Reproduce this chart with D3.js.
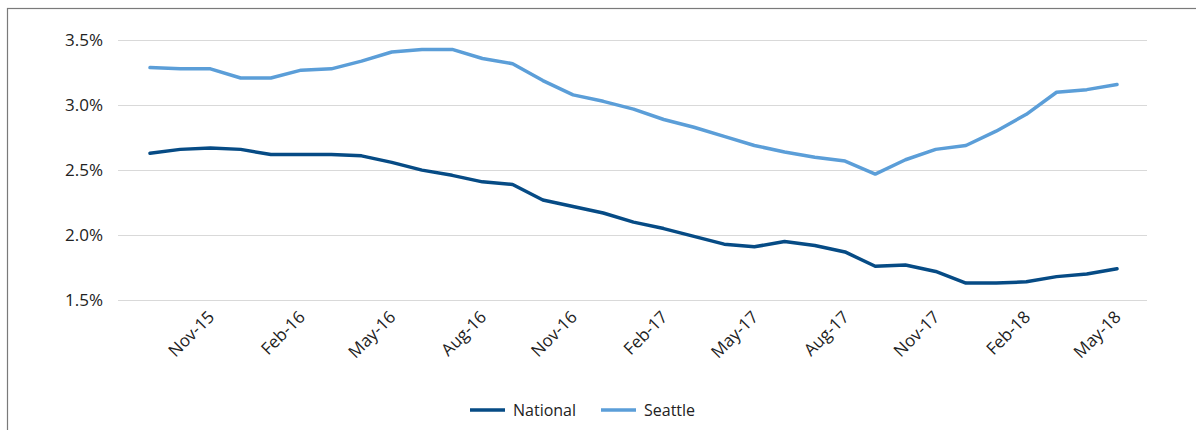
<!DOCTYPE html>
<html>
<head>
<meta charset="utf-8">
<script src="https://cdn.jsdelivr.net/npm/d3@7"></script>
<style>
  body { margin: 0; background: #fff; }
  svg { display: block; font-family: "Open Sans", "Noto Sans", sans-serif; }
</style>
</head>
<body>
<svg width="1196" height="430"></svg>
<script>
const months = ["Sep-15","Oct-15","Nov-15","Dec-15","Jan-16","Feb-16","Mar-16","Apr-16","May-16","Jun-16","Jul-16",
  "Aug-16","Sep-16","Oct-16","Nov-16","Dec-16","Jan-17","Feb-17","Mar-17","Apr-17","May-17","Jun-17","Jul-17",
  "Aug-17","Sep-17","Oct-17","Nov-17","Dec-17","Jan-18","Feb-18","Mar-18","Apr-18","May-18"];
const national = [2.63,2.66,2.67,2.66,2.62,2.62,2.62,2.61,2.56,2.50,2.46,2.41,2.39,2.27,2.22,2.17,2.10,2.05,1.99,1.93,1.91,1.95,1.92,1.87,1.76,1.77,1.72,1.63,1.63,1.64,1.68,1.70,1.74];
const seattle = [3.29,3.28,3.28,3.21,3.21,3.27,3.28,3.34,3.41,3.43,3.43,3.36,3.32,3.19,3.08,3.03,2.97,2.89,2.83,2.76,2.69,2.64,2.60,2.57,2.47,2.58,2.66,2.69,2.80,2.93,3.10,3.12,3.16];
const yTicks = [1.5, 2.0, 2.5, 3.0, 3.5];
const xTickLabels = ["Nov-15","Feb-16","May-16","Aug-16","Nov-16","Feb-17","May-17","Aug-17","Nov-17","Feb-18","May-18"];

const series = [
  { name: "National", values: national, color: "#064b85" },
  { name: "Seattle", values: seattle, color: "#5b9ed8" }
];

const svg = d3.select("svg");

// outer frame
svg.append("rect")
  .attr("x", 7.5).attr("y", 8.5)
  .attr("width", 1200).attr("height", 440)
  .attr("fill", "none")
  .attr("stroke", "#7a7a7a")
  .attr("stroke-width", 1.2);

const gridLeft = 118, gridRight = 1147;

const x = d3.scalePoint().domain(months).range([150, 1117]);
const y = d3.scaleLinear().domain([1.5, 3.5]).range([300, 40.3]);

// gridlines
svg.append("g")
  .selectAll("line")
  .data(yTicks)
  .join("line")
  .attr("x1", gridLeft).attr("x2", gridRight)
  .attr("y1", d => Math.round(y(d)) + 0.5)
  .attr("y2", d => Math.round(y(d)) + 0.5)
  .attr("stroke", "#d9d9d9")
  .attr("stroke-width", 1);

// y labels
svg.append("g")
  .selectAll("text")
  .data(yTicks)
  .join("text")
  .attr("x", 103)
  .attr("y", d => y(d))
  .attr("dy", "0.35em")
  .attr("text-anchor", "end")
  .attr("font-size", 17)
  .attr("fill", "#222")
  .text(d => d.toFixed(1) + "%");

// x labels rotated
svg.append("g")
  .selectAll("text")
  .data(xTickLabels)
  .join("text")
  .attr("transform", d => `translate(${x(d) + 5},${318}) rotate(-45)`)
  .attr("text-anchor", "end")
  .attr("font-size", 17)
  .attr("fill", "#222")
  .text(d => d);

// lines
const line = d3.line()
  .x((d, i) => x(months[i]))
  .y(d => y(d));

svg.append("g")
  .selectAll("path")
  .data(series)
  .join("path")
  .attr("d", d => line(d.values))
  .attr("fill", "none")
  .attr("stroke", d => d.color)
  .attr("stroke-width", 3.5)
  .attr("stroke-linejoin", "round")
  .attr("stroke-linecap", "round");

// legend
const legend = svg.append("g")
  .selectAll("g")
  .data(series)
  .join("g")
  .attr("transform", (d, i) => `translate(${470 + i * 131},410)`);

legend.append("line")
  .attr("x1", 0).attr("x2", 35)
  .attr("stroke", d => d.color)
  .attr("stroke-width", 3.5);

legend.append("text")
  .attr("x", 43)
  .attr("dy", "0.35em")
  .attr("font-size", 16)
  .attr("fill", "#222")
  .text(d => d.name);
</script>
</body>
</html>
